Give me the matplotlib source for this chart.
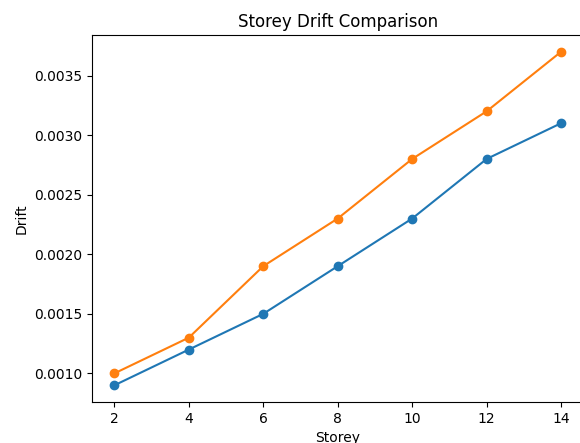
import matplotlib
matplotlib.use("Agg")
import matplotlib.pyplot as plt

storeys = [2, 4, 6, 8, 10, 12, 14]
drift_a = [0.0009, 0.0012, 0.0015, 0.0019, 0.0023, 0.0028, 0.0031]
drift_b = [0.0010, 0.0013, 0.0019, 0.0023, 0.0028, 0.0032, 0.0037]

fig = plt.figure(figsize=(5.8, 4.43), dpi=100)
ax = fig.add_axes([92/580, 41/443, 491.5/580, 367/443])
ax.plot(storeys, drift_a, marker='o')
ax.plot(storeys, drift_b, marker='o')
ax.set_title("Storey Drift Comparison")
ax.set_xlabel("Storey")
ax.set_ylabel("Drift")
ax.set_xticks(storeys)
fig.savefig("out.png", dpi=100)
